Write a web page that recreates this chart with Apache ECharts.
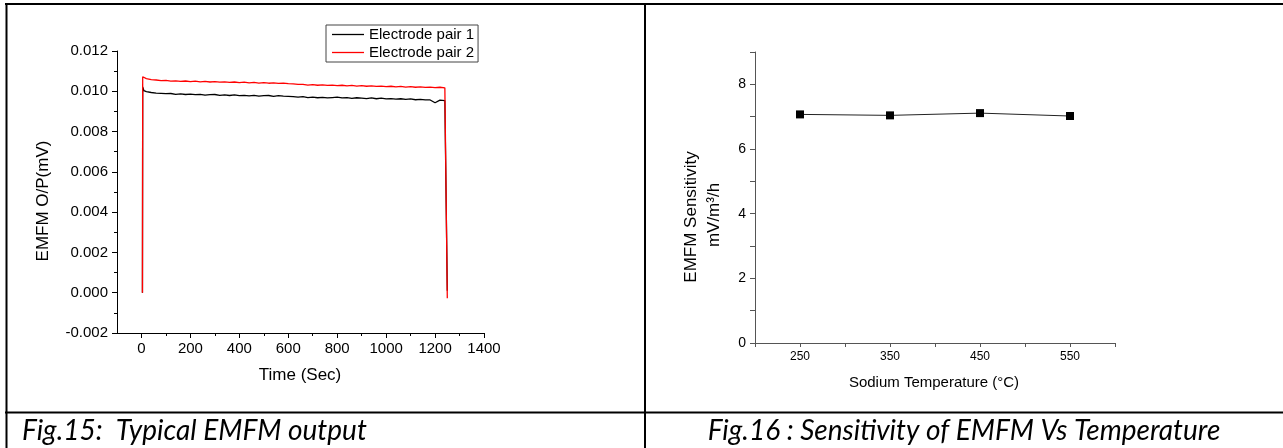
<!DOCTYPE html>
<html>
<head>
<meta charset="utf-8">
<script src="https://cdn.jsdelivr.net/npm/echarts@6/dist/echarts.min.js"></script>
<style>
  html, body { margin: 0; padding: 0; background: #fff; }
  #main { width: 1283px; height: 448px; }
</style>
</head>
<body>
<div id="main"></div>
<script>
// Fig.15 - EMFM output (time in sec, output in mV)
const timeSec = [4, 5, 10, 20, 40, 60, 80, 100, 120, 140, 160, 180, 200, 220, 240, 260, 280, 300,
  320, 340, 360, 380, 400, 420, 440, 460, 480, 500, 520, 540, 560, 580, 600, 620, 640, 660, 680,
  700, 720, 740, 760, 780, 800, 820, 840, 860, 880, 900, 920, 940, 960, 980, 1000, 1020, 1040,
  1060, 1080, 1100, 1120, 1140, 1160, 1180, 1200, 1220, 1240, 1246, 1250];
const pair1 = [0, 0.01022, 0.01003, 0.00998, 0.00994, 0.00991, 0.00990, 0.00988, 0.00989, 0.00985,
  0.00987, 0.00984, 0.00986, 0.00983, 0.00985, 0.00981, 0.00983, 0.00984, 0.00980, 0.00982,
  0.00979, 0.00982, 0.00978, 0.00980, 0.00977, 0.00980, 0.00976, 0.00978, 0.00979, 0.00975,
  0.00978, 0.00976, 0.00975, 0.00973, 0.00971, 0.00973, 0.00969, 0.00971, 0.00968, 0.00970,
  0.00967, 0.00969, 0.00971, 0.00967, 0.00969, 0.00965, 0.00968, 0.00966, 0.00964, 0.00967,
  0.00963, 0.00966, 0.00962, 0.00964, 0.00961, 0.00963, 0.00960, 0.00962, 0.00958, 0.00960,
  0.00957, 0.00957, 0.00943, 0.00956, 0.00954, 0.00953, 0.00010];
const pair2 = [0, 0.01072, 0.01066, 0.01063, 0.01058, 0.01056, 0.01053, 0.01054, 0.01050, 0.01052,
  0.01049, 0.01051, 0.01048, 0.01050, 0.01047, 0.01049, 0.01046, 0.01048, 0.01045, 0.01047,
  0.01044, 0.01046, 0.01043, 0.01045, 0.01042, 0.01044, 0.01041, 0.01043, 0.01040, 0.01042,
  0.01039, 0.01041, 0.01038, 0.01037, 0.01034, 0.01034, 0.01031, 0.01033, 0.01030, 0.01032,
  0.01029, 0.01031, 0.01028, 0.01030, 0.01027, 0.01029, 0.01026, 0.01028, 0.01025, 0.01027,
  0.01024, 0.01026, 0.01023, 0.01025, 0.01022, 0.01024, 0.01021, 0.01023, 0.01020, 0.01022,
  0.01019, 0.01021, 0.01018, 0.01020, 0.01017, 0.01017, -0.00028];
const timeTicks = [0, 200, 400, 600, 800, 1000, 1200, 1400];
const timeMinorTicks = [100, 300, 500, 700, 900, 1100, 1300];

// Fig.16 - sensitivity vs sodium temperature
const tempC = [250, 350, 450, 550];
const sensitivity = [7.07, 7.04, 7.11, 7.02];

const font = '"Liberation Sans", Arial, sans-serif';
const capFont = 'Lato, "Open Sans", sans-serif';

let myChart = echarts.init(document.getElementById("main"));

let option = {
  animation: false,
  legend: {
    data: ["Electrode pair 1", "Electrode pair 2"],
    orient: "vertical",
    left: 326,
    top: 25,
    padding: [2, 4, 2, 6],
    icon: "rect",
    itemWidth: 32,
    itemHeight: 1.3,
    itemGap: 3,
    itemTextGap: 7,
    borderColor: "#444",
    borderWidth: 1,
    textStyle: { color: "#000", fontSize: 15, fontFamily: font, lineHeight: 15 },
  },
  grid: [
    { left: 117, top: 51, width: 367, height: 282 },
    { left: 755, top: 52, width: 360, height: 291 },
  ],
  xAxis: [
    {
      gridIndex: 0,
      type: "value",
      min: -100,
      max: 1400,
      splitLine: { show: false },
      axisLine: { onZero: false, lineStyle: { color: "#000", width: 1 } },
      axisTick: { customValues: timeTicks, length: 5, lineStyle: { color: "#000" } },
      axisLabel: {
        customValues: timeTicks,
        margin: 8,
        color: "#000",
        fontSize: 15,
        fontFamily: font,
        formatter: (v) => String(v),
      },
    },
    {
      // short ticks between the labelled ones
      gridIndex: 0,
      type: "value",
      min: -100,
      max: 1400,
      position: "bottom",
      splitLine: { show: false },
      axisLine: { show: false, onZero: false },
      axisTick: { customValues: timeMinorTicks, length: 3, lineStyle: { color: "#000" } },
      axisLabel: { show: false },
    },
    {
      gridIndex: 1,
      type: "value",
      min: 200,
      max: 600,
      interval: 50,
      splitLine: { show: false },
      axisLine: { onZero: false, lineStyle: { color: "#555", width: 1 } },
      axisTick: { length: 4, lineStyle: { color: "#555" } },
      axisLabel: {
        margin: 8,
        color: "#000",
        fontSize: 12,
        fontFamily: font,
        formatter: (v) => (v % 100 === 50 ? String(v) : ""),
      },
    },
  ],
  yAxis: [
    {
      gridIndex: 0,
      type: "value",
      min: -0.002,
      max: 0.012,
      interval: 0.002,
      splitLine: { show: false },
      axisLine: { show: true, onZero: false, lineStyle: { color: "#000", width: 1 } },
      axisTick: { show: true, length: 5, lineStyle: { color: "#000" } },
      minorTick: { show: true, splitNumber: 2, length: 3, lineStyle: { color: "#000" } },
      axisLabel: {
        margin: 9,
        color: "#000",
        fontSize: 15,
        fontFamily: font,
        formatter: (v) => (Math.abs(v) < 1e-9 ? "0.000" : v.toFixed(3)),
      },
    },
    {
      gridIndex: 1,
      type: "value",
      min: 0,
      max: 9,
      interval: 1,
      splitLine: { show: false },
      axisLine: { show: true, onZero: false, lineStyle: { color: "#555", width: 1 } },
      axisTick: { show: true, length: 5, lineStyle: { color: "#555" } },
      axisLabel: {
        margin: 9,
        color: "#000",
        fontSize: 14,
        fontFamily: font,
        formatter: (v) => (v % 2 === 0 ? String(v) : ""),
      },
    },
  ],
  series: [
    {
      name: "Electrode pair 1",
      type: "line",
      xAxisIndex: 0,
      yAxisIndex: 0,
      symbol: "none",
      data: timeSec.map((t, i) => [t, pair1[i]]),
      lineStyle: { color: "#000", width: 1.3 },
      itemStyle: { color: "#000" },
    },
    {
      name: "Electrode pair 2",
      type: "line",
      xAxisIndex: 0,
      yAxisIndex: 0,
      symbol: "none",
      data: timeSec.map((t, i) => [t, pair2[i]]),
      lineStyle: { color: "#ff0000", width: 1.3 },
      itemStyle: { color: "#ff0000" },
    },
    {
      name: "Sensitivity",
      type: "line",
      xAxisIndex: 2,
      yAxisIndex: 1,
      symbol: "rect",
      symbolSize: 8,
      data: tempC.map((t, i) => [t, sensitivity[i]]),
      lineStyle: { color: "#222", width: 1 },
      itemStyle: { color: "#000" },
    },
  ],
  graphic: [
    // table borders
    { type: "line", shape: { x1: 5, y1: 4, x2: 1283, y2: 4 }, style: { stroke: "#000", lineWidth: 2 } },
    { type: "line", shape: { x1: 6.5, y1: 3, x2: 6.5, y2: 448 }, style: { stroke: "#000", lineWidth: 2 } },
    { type: "line", shape: { x1: 645, y1: 3, x2: 645, y2: 448 }, style: { stroke: "#000", lineWidth: 2 } },
    { type: "line", shape: { x1: 5, y1: 412.5, x2: 1283, y2: 412.5 }, style: { stroke: "#000", lineWidth: 2 } },
    // axis titles
    {
      type: "text", x: 43, y: 201, rotation: Math.PI / 2,
      style: { text: "EMFM O/P(mV)", fill: "#000", font: "17px " + font, textAlign: "center", textVerticalAlign: "middle" },
    },
    {
      type: "text", x: 300, y: 375,
      style: { text: "Time (Sec)", fill: "#000", font: "17px " + font, textAlign: "center", textVerticalAlign: "middle" },
    },
    {
      type: "text", x: 691, y: 217, rotation: Math.PI / 2,
      style: { text: "EMFM Sensitivity", fill: "#000", font: "17px " + font, textAlign: "center", textVerticalAlign: "middle" },
    },
    {
      type: "text", x: 714, y: 215, rotation: Math.PI / 2,
      style: { text: "mV/m³/h", fill: "#000", font: "17px " + font, textAlign: "center", textVerticalAlign: "middle" },
    },
    {
      type: "text", x: 934, y: 383,
      style: { text: "Sodium Temperature (°C)", fill: "#000", font: "15px " + font, textAlign: "center", textVerticalAlign: "middle" },
    },
    // captions
    {
      type: "text", x: 22, y: 431,
      style: { text: "Fig.15:  Typical EMFM output", fill: "#000", font: "italic 28px " + capFont, textAlign: "left", textVerticalAlign: "middle" },
    },
    {
      type: "text", x: 964, y: 431,
      style: { text: "Fig.16 : Sensitivity of EMFM Vs Temperature", fill: "#000", font: "italic 28px " + capFont, textAlign: "center", textVerticalAlign: "middle" },
    },
  ],
};
myChart.setOption(option);
</script>
</body>
</html>
